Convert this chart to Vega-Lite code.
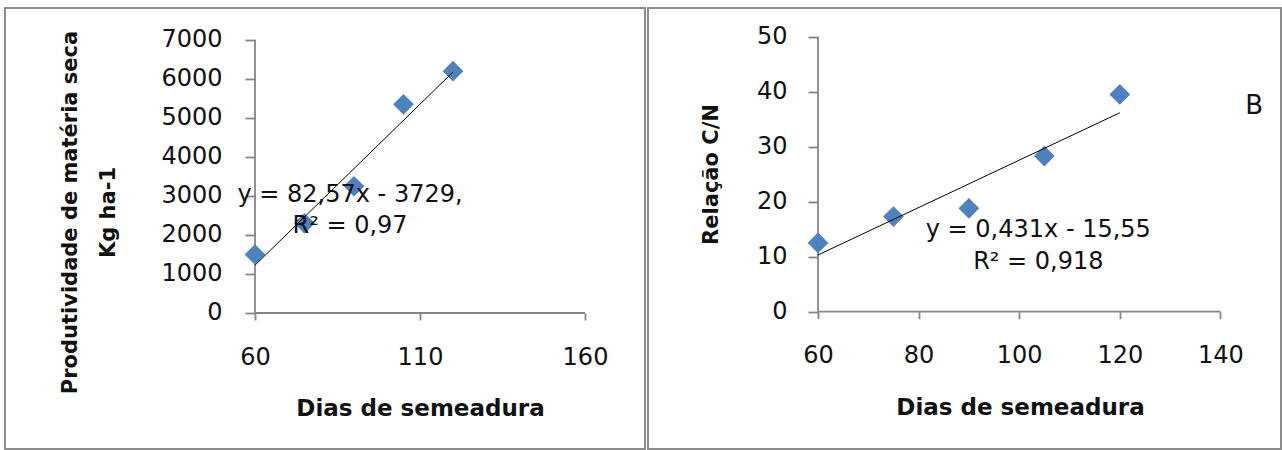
{
  "$schema": "https://vega.github.io/schema/vega-lite/v6.json",
  "background": "white",
  "padding": {"left": 4, "top": 7, "right": 0, "bottom": 0},
  "spacing": 1,
  "config": {
    "view": {"stroke": "#8c8c8c", "strokeWidth": 2},
    "font": "DejaVu Sans",
    "axis": {
      "labelFont": "DejaVu Sans",
      "labelFontSize": 24,
      "labelColor": "#111111",
      "titleFont": "DejaVu Sans",
      "titleFontWeight": "bold",
      "titleColor": "#111111",
      "tickColor": "#858585",
      "tickWidth": 1.8,
      "domain": false,
      "grid": false,
      "labelOverlap": false,
      "labelFlush": false,
      "format": "d"
    }
  },
  "datasets": {
    "pts_a": [{"x": 60, "y": 1500}, {"x": 75, "y": 2300}, {"x": 90, "y": 3250}, {"x": 105, "y": 5350}, {"x": 120, "y": 6200}],
    "axes_a": [{"x": 60, "y": 0, "x2": 160, "y2": 0}, {"x": 60, "y": 0, "x2": 60, "y2": 7000}],
    "trend_a": [{"x": 60, "y": 1225.2, "x2": 120, "y2": 6179.4}],
    "eq_a": [{"x": 88.8, "y": 3026, "label": "y = 82,57x - 3729,"}, {"x": 88.8, "y": 2231, "label": "R² = 0,97"}],
    "pts_b": [{"x": 60, "y": 12.5}, {"x": 75, "y": 17.3}, {"x": 90, "y": 18.8}, {"x": 105, "y": 28.3}, {"x": 120, "y": 39.5}],
    "axes_b": [{"x": 60, "y": 0, "x2": 140, "y2": 0}, {"x": 60, "y": 0, "x2": 60, "y2": 50}],
    "trend_b": [{"x": 60, "y": 10.31, "x2": 120, "y2": 36.17}],
    "eq_b": [{"x": 103.8, "y": 14.85, "label": "y = 0,431x - 15,55"}, {"x": 103.8, "y": 9.04, "label": "R² = 0,918"}],
    "tag_b": [{"x": 146.7, "y": 37.4, "label": "B"}]
  },
  "hconcat": [
    {
      "width": 640,
      "height": 441,
      "encoding": {
        "x": {
          "field": "x", "type": "quantitative",
          "scale": {"domain": [-15.758, 178.182], "nice": false, "zero": false},
          "axis": {
            "values": [60, 110, 160], "offset": -136, "tickSize": 7, "labelPadding": 25,
            "title": "Dias de semeadura", "titleFontSize": 23,
            "titleX": 415, "titleY": 95, "titleBaseline": "middle", "titleAlign": "center"
          }
        },
        "y": {
          "field": "y", "type": "quantitative",
          "scale": {"domain": [-3487.2, 7820.5], "nice": false, "zero": false},
          "axis": {
            "values": [0, 1000, 2000, 3000, 4000, 5000, 6000, 7000], "offset": -250, "tickSize": 10, "labelPadding": 23,
            "title": ["Produtividade de matéria seca", "Kg ha-1"], "titleFontSize": 21, "titleLineHeight": 38,
            "titleAngle": -90, "titleX": -185, "titleY": 204, "titleBaseline": "middle", "titleAlign": "center"
          }
        }
      },
      "layer": [
        {
          "data": {"name": "axes_a"},
          "mark": {"type": "rule", "color": "#858585", "strokeWidth": 1.8},
          "encoding": {"x2": {"field": "x2"}, "y2": {"field": "y2"}}
        },
        {
          "data": {"name": "pts_a"},
          "mark": {"type": "point", "shape": "diamond", "filled": true, "size": 430, "color": "#4f81bd", "opacity": 1}
        },
        {
          "data": {"name": "trend_a"},
          "mark": {"type": "rule", "color": "#000000", "strokeWidth": 1},
          "encoding": {"x2": {"field": "x2"}, "y2": {"field": "y2"}}
        },
        {
          "data": {"name": "eq_a"},
          "mark": {"type": "text", "fontSize": 24, "align": "center", "baseline": "middle", "color": "#111111", "font": "DejaVu Sans"},
          "encoding": {"text": {"field": "label"}}
        }
      ]
    },
    {
      "width": 633,
      "height": 441,
      "encoding": {
        "x": {
          "field": "x", "type": "quantitative",
          "scale": {"domain": [26.203, 152.048], "nice": false, "zero": false},
          "axis": {
            "values": [60, 80, 100, 120, 140], "offset": -137.3, "tickSize": 7, "labelPadding": 25,
            "title": "Dias de semeadura", "titleFontSize": 23,
            "titleX": 372, "titleY": 96, "titleBaseline": "middle", "titleAlign": "center"
          }
        },
        "y": {
          "field": "y", "type": "quantitative",
          "scale": {"domain": [-24.964, 55.218], "nice": false, "zero": false},
          "axis": {
            "values": [0, 10, 20, 30, 40, 50], "offset": -170, "tickSize": 10, "labelPadding": 21,
            "title": "Relação C/N", "titleFontSize": 21,
            "titleAngle": -90, "titleX": -107, "titleY": 166, "titleBaseline": "middle", "titleAlign": "center"
          }
        }
      },
      "layer": [
        {
          "data": {"name": "axes_b"},
          "mark": {"type": "rule", "color": "#858585", "strokeWidth": 1.8},
          "encoding": {"x2": {"field": "x2"}, "y2": {"field": "y2"}}
        },
        {
          "data": {"name": "pts_b"},
          "mark": {"type": "point", "shape": "diamond", "filled": true, "size": 430, "color": "#4f81bd", "opacity": 1}
        },
        {
          "data": {"name": "trend_b"},
          "mark": {"type": "rule", "color": "#000000", "strokeWidth": 1},
          "encoding": {"x2": {"field": "x2"}, "y2": {"field": "y2"}}
        },
        {
          "data": {"name": "eq_b"},
          "mark": {"type": "text", "fontSize": 24, "align": "center", "baseline": "middle", "color": "#111111", "font": "DejaVu Sans"},
          "encoding": {"text": {"field": "label"}}
        },
        {
          "data": {"name": "tag_b"},
          "mark": {"type": "text", "fontSize": 26, "align": "center", "baseline": "middle", "color": "#111111", "font": "DejaVu Sans"},
          "encoding": {"text": {"field": "label"}}
        }
      ]
    }
  ]
}
